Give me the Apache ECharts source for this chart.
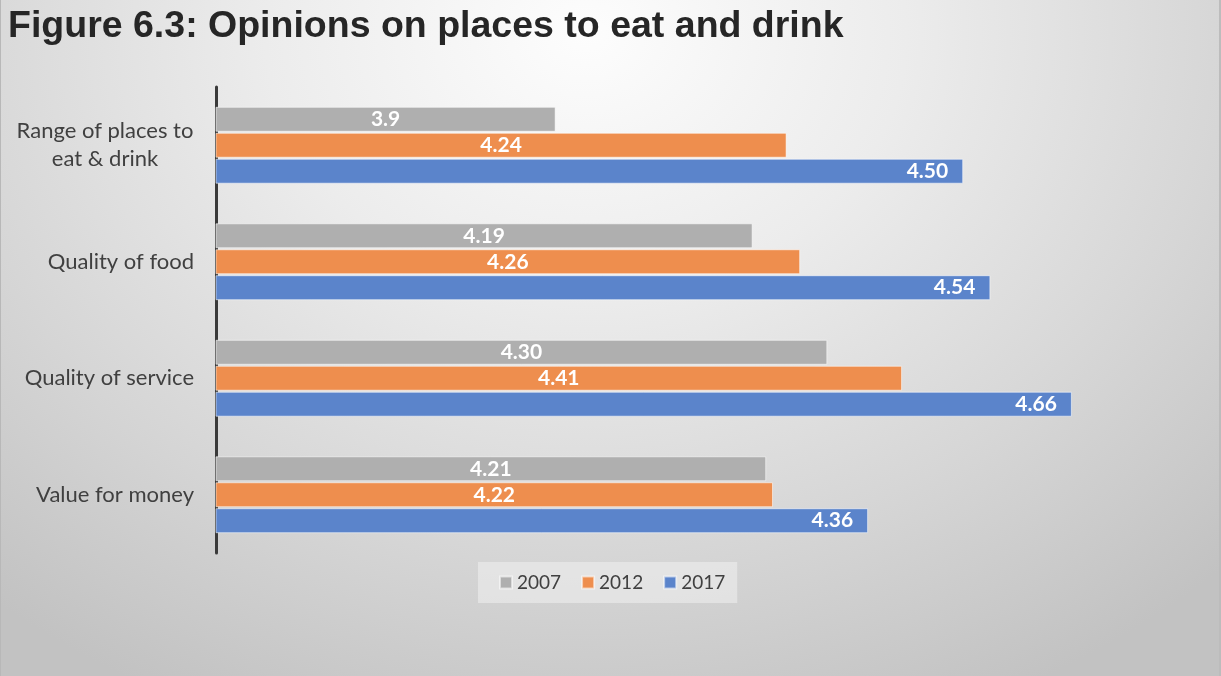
<!DOCTYPE html>
<html>
<head>
<meta charset="utf-8">
<script src="https://cdn.jsdelivr.net/npm/echarts@6/dist/echarts.min.js"></script>
<style>
  html, body { margin: 0; padding: 0; }
  #chart {
    width: 1221px; height: 676px;
    background: radial-gradient(ellipse 75% 110% at 48% 5%, #fdfdfd 0%, #ececec 35%, #d6d6d6 70%, #c2c2c2 100%);
    box-shadow: inset 1px 0 0 #b8b8b8, inset -2px 0 0 #bcbcbc;
  }
</style>
</head>
<body>
<div id="chart"></div>
<script>
// Survey categories, top to bottom
const categories = ['Range of places to\neat & drink', 'Quality of food', 'Quality of service', 'Value for money'];
const seriesNames = ['2007', '2012', '2017'];
// Mean scores as printed on each bar
const scores2007 = ['3.9', '4.19', '4.30', '4.21'];
const scores2012 = ['4.24', '4.26', '4.41', '4.22'];
const scores2017 = ['4.50', '4.54', '4.66', '4.36'];

const colors = ['#afafaf', '#ee8e4e', '#5b84cb'];
const labelFont = 'Lato, "Open Sans", sans-serif';

function makeSeries(name, scores, color, pos) {
  return {
    name: name,
    type: 'bar',
    barGap: '4%',
    barCategoryGap: '34%',
    data: scores.map(Number),
    itemStyle: { color: color, borderColor: 'rgba(255,255,255,0.55)', borderWidth: 1 },
    label: {
      show: true,
      position: pos,
      distance: 15,
      color: '#ffffff',
      fontFamily: labelFont,
      fontWeight: 'bold',
      fontSize: 21,
      formatter: p => scores[p.dataIndex]
    },
    emphasis: { disabled: true }
  };
}

const chart = echarts.init(document.getElementById('chart'), null, { renderer: 'canvas' });
chart.setOption({
  backgroundColor: 'transparent',
  animation: false,
  color: colors,
  title: {
    text: 'Figure 6.3: Opinions on places to eat and drink',
    left: 3, top: 3,
    textStyle: { fontFamily: '"Liberation Sans", Arial, sans-serif', fontWeight: 'bold', fontSize: 37.5, color: '#262626' }
  },
  grid: { left: 216, right: 54, top: 87, bottom: 123 },
  xAxis: {
    type: 'value',
    min: 3.4, max: 4.8, interval: 0.2,
    show: false
  },
  yAxis: {
    type: 'category',
    inverse: true,
    data: categories,
    axisLine: { show: true, lineStyle: { color: '#3a3a3a', width: 3 } },
    axisTick: { show: false },
    axisLabel: {
      margin: 22,
      fontFamily: labelFont,
      fontSize: 22,
      color: '#404040',
      lineHeight: 28,
      formatter: v => v.indexOf('\n') >= 0 ? v.split('\n').map(s => '{c|' + s + '}').join('\n') : v,
      rich: { c: { width: 178, align: 'center', fontFamily: labelFont, fontSize: 22, color: '#404040', lineHeight: 28 } }
    }
  },
  legend: {
    data: seriesNames,
    left: 478, top: 562,
    padding: [11, 12, 11, 21],
    backgroundColor: 'rgba(240,240,240,0.55)',
    itemWidth: 12, itemHeight: 12, itemGap: 20,
    icon: 'rect',
    textStyle: { fontFamily: labelFont, fontSize: 19, color: '#404040', padding: [0, 0, 0, 0] }
  },
  series: [
    makeSeries('2007', scores2007, colors[0], 'inside'),
    makeSeries('2012', scores2012, colors[1], 'inside'),
    makeSeries('2017', scores2017, colors[2], 'insideRight')
  ]
});
</script>
</body>
</html>
